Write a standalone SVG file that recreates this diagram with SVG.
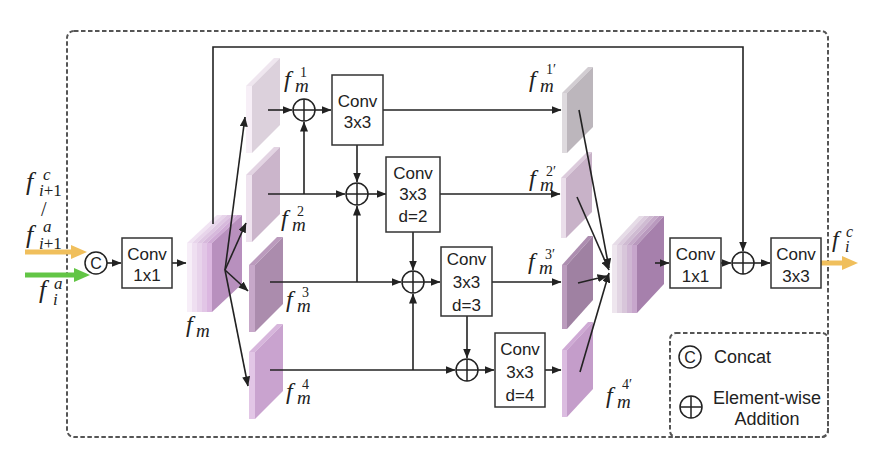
<svg xmlns="http://www.w3.org/2000/svg" width="871" height="458" viewBox="0 0 871 458">
<style>
.frame{fill:none;stroke:#555;stroke-width:2;stroke-dasharray:4.5 2.5}
.box{fill:#fff;stroke:#333;stroke-width:1.5}
.lbl{font-family:"Liberation Sans",Arial,sans-serif;font-size:17px;fill:#222;text-anchor:middle}
.leg{font-family:"Liberation Sans",Arial,sans-serif;font-size:18px;fill:#222}
.mi{font-family:"Liberation Serif","Times New Roman",serif;font-style:italic;fill:#222}
.mr{font-family:"Liberation Serif","Times New Roman",serif;font-style:normal;fill:#222}
.ln{fill:none;stroke:#222;stroke-width:1.6}
</style>
<defs>
<marker id="ah" markerUnits="userSpaceOnUse" markerWidth="10" markerHeight="8" refX="9.5" refY="4" orient="auto"><path d="M0,0 L10,4 L0,8 z" fill="#222"/></marker>
<marker id="ahOr" markerUnits="userSpaceOnUse" markerWidth="17" markerHeight="14" refX="4" refY="7" orient="auto"><path d="M0,0 L16,7 L0,14 z" fill="#f0bf5c"/></marker>
<marker id="ahGr" markerUnits="userSpaceOnUse" markerWidth="17" markerHeight="14" refX="4" refY="7" orient="auto"><path d="M0,0 L16,7 L0,14 z" fill="#62c545"/></marker>
<g id="plus"><circle cx="0" cy="0" r="11" fill="#fff" stroke="#222" stroke-width="1.5"/><path d="M-11,0H11M0,-11V11" fill="none" stroke="#222" stroke-width="1.5"/></g>
<g id="concat"><circle cx="0" cy="0" r="11" fill="#fff" stroke="#222" stroke-width="1.5"/><text x="0" y="6" font-family="Liberation Sans, Arial, sans-serif" font-size="16" fill="#222" text-anchor="middle">C</text></g>
</defs>

<rect class="frame" x="67" y="31" width="761" height="406" rx="7"/>

<!-- input labels -->
<g id="inputs">
<text class="mi" font-size="26"><tspan x="26" y="190">f</tspan><tspan x="43" y="180" font-size="17">c</tspan><tspan x="39" y="196" font-size="17">i</tspan><tspan class="mr" font-size="17">+1</tspan></text>
<text class="mr" x="41" y="216" font-size="20">/</text>
<text class="mi" font-size="26"><tspan x="26" y="243">f</tspan><tspan x="43" y="232" font-size="17">a</tspan><tspan x="39" y="249" font-size="17">i</tspan><tspan class="mr" font-size="17">+1</tspan></text>
<text class="mi" font-size="26"><tspan x="39" y="298">f</tspan><tspan x="54" y="289" font-size="17">a</tspan><tspan x="53" y="305" font-size="17">i</tspan></text>
</g>

<!-- fm block -->
<g id="fm">
<rect x="187" y="243" width="5" height="69" fill="#f7eef8"/><polygon points="187,243 192,243 222,215 217,215" fill="#f1e4f3"/>
<rect x="192" y="243" width="5" height="69" fill="#efdff1"/><polygon points="192,243 197,243 227,215 222,215" fill="#e8d5eb"/>
<rect x="197" y="243" width="5" height="69" fill="#e8d3eb"/><polygon points="197,243 202,243 232,215 227,215" fill="#dfc7e3"/>
<rect x="202" y="243" width="5" height="69" fill="#e2c6e6"/><polygon points="202,243 207,243 237,215 232,215" fill="#d7b9dc"/>
<rect x="207" y="243" width="5" height="69" fill="#dbb7e0"/><polygon points="207,243 212,243 242,215 237,215" fill="#cfaad5"/>
<polygon points="212,243 242,215 242,284 212,312" fill="#b890be"/>
<text class="mi" font-size="24"><tspan x="186" y="332">f</tspan><tspan x="196" y="337" font-size="19">m</tspan></text>
</g>

<!-- left plates -->
<g id="fm1">
<rect x="246" y="86" width="6" height="67" fill="#f7eff7"/><polygon points="246,86 252,86 280,58 274,58" fill="#efe6ef"/><polygon points="252,86 280,58 280,125 252,153" fill="#dcd1dc"/>
<text class="mi" font-size="24"><tspan x="284" y="87">f</tspan><tspan class="mr" x="300" y="77" font-size="14">1</tspan><tspan x="295" y="92" font-size="19">m</tspan></text>
</g>
<g id="fm2">
<rect x="246" y="175" width="6" height="67" fill="#efe3ef"/><polygon points="246,175 252,175 280,147 274,147" fill="#e3d4e3"/><polygon points="252,175 280,147 280,214 252,242" fill="#cbb5cb"/>
<text class="mi" font-size="24"><tspan x="281" y="226">f</tspan><tspan class="mr" x="297" y="216" font-size="14">2</tspan><tspan x="292" y="231" font-size="19">m</tspan></text>
</g>
<g id="fm3">
<rect x="249" y="265" width="6" height="67" fill="#c7a8c9"/><polygon points="249,265 255,265 283,237 277,237" fill="#bb9bbd"/><polygon points="255,265 283,237 283,304 255,332" fill="#ab8cad"/>
<text class="mi" font-size="24"><tspan x="286" y="307">f</tspan><tspan class="mr" x="302" y="297" font-size="14">3</tspan><tspan x="297" y="312" font-size="19">m</tspan></text>
</g>
<g id="fm4">
<rect x="249" y="352" width="6" height="67" fill="#e2c6e6"/><polygon points="249,352 255,352 283,324 277,324" fill="#d7b6dc"/><polygon points="255,352 283,324 283,391 255,419" fill="#c9a3cf"/>
<text class="mi" font-size="24"><tspan x="286" y="399">f</tspan><tspan class="mr" x="302" y="389" font-size="14">4</tspan><tspan x="297" y="404" font-size="19">m</tspan></text>
</g>

<!-- right plates -->
<g id="fm1p">
<rect x="562" y="93" width="5" height="60" fill="#dedade"/><polygon points="562,93 567,93 593,67 588,67" fill="#d2cdd2"/><polygon points="567,93 593,67 593,127 567,153" fill="#bcb6bc"/>
<text class="mi" font-size="24"><tspan x="529" y="87">f</tspan><tspan class="mr" x="546" y="74" font-size="14">1′</tspan><tspan x="540" y="92" font-size="19">m</tspan></text>
</g>
<g id="fm2p">
<rect x="561" y="178" width="5" height="60" fill="#eadeea"/><polygon points="561,178 566,178 592,152 587,152" fill="#dccbdc"/><polygon points="566,178 592,152 592,212 566,238" fill="#c8b2c8"/>
<text class="mi" font-size="24"><tspan x="529" y="186">f</tspan><tspan class="mr" x="546" y="176" font-size="14">2′</tspan><tspan x="540" y="191" font-size="19">m</tspan></text>
</g>
<g id="fm3p">
<rect x="562" y="265" width="5" height="64" fill="#bb9cbd"/><polygon points="562,265 567,265 593,236 588,236" fill="#ad8eb0"/><polygon points="567,265 593,236 593,300 567,329" fill="#9f81a2"/>
<text class="mi" font-size="24"><tspan x="528" y="269">f</tspan><tspan class="mr" x="545" y="259" font-size="14">3′</tspan><tspan x="539" y="274" font-size="19">m</tspan></text>
</g>
<g id="fm4p">
<rect x="562" y="350" width="5" height="67" fill="#dbbce0"/><polygon points="562,350 567,350 593,322 588,322" fill="#cfaad5"/><polygon points="567,350 593,322 593,389 567,417" fill="#c49dca"/>
<text class="mi" font-size="24"><tspan x="606" y="403">f</tspan><tspan class="mr" x="622" y="389" font-size="14">4′</tspan><tspan x="617" y="408" font-size="19">m</tspan></text>
</g>

<!-- right concat block -->
<g id="cat">
<rect x="612" y="245" width="5" height="68" fill="#eee6ee"/><polygon points="612,245 617,245 644,216 639,216" fill="#e6dce7"/>
<rect x="617" y="245" width="5" height="68" fill="#e2d5e3"/><polygon points="617,245 622,245 649,216 644,216" fill="#dbcbdd"/>
<rect x="622" y="245" width="5" height="68" fill="#d8c6da"/><polygon points="622,245 627,245 654,216 649,216" fill="#cfbbd2"/>
<rect x="627" y="245" width="5" height="68" fill="#cfb6d3"/><polygon points="627,245 632,245 659,216 654,216" fill="#c5aac9"/>
<rect x="632" y="245" width="5" height="68" fill="#c7a6cc"/><polygon points="632,245 637,245 664,216 659,216" fill="#b999be"/>
<polygon points="637,245 664,216 664,284 637,313" fill="#a680ac"/>
</g>

<!-- connectors -->
<g id="connectors">
<line x1="25" y1="252" x2="75" y2="252" stroke="#f0bf5c" stroke-width="5" marker-end="url(#ahOr)"/>
<line x1="25" y1="275" x2="78" y2="275" stroke="#62c545" stroke-width="5" marker-end="url(#ahGr)"/>
<line x1="821" y1="263" x2="846" y2="263" stroke="#f0bf5c" stroke-width="5" marker-end="url(#ahOr)"/>
<path class="ln" d="M107,263H121" marker-end="url(#ah)"/>
<path class="ln" d="M172,263H186" marker-end="url(#ah)"/>
<path class="ln" d="M213,224V47H743V251" marker-end="url(#ah)"/>
<path class="ln" d="M225,270L245,117" marker-end="url(#ah)"/>
<path class="ln" d="M225,270L246,223" marker-end="url(#ah)"/>
<path class="ln" d="M225,270L248,291" marker-end="url(#ah)"/>
<path class="ln" d="M225,270L248,386" marker-end="url(#ah)"/>
<path class="ln" d="M268,110H292" marker-end="url(#ah)"/>
<path class="ln" d="M315,110H331" marker-end="url(#ah)"/>
<path class="ln" d="M383,110H561" marker-end="url(#ah)"/>
<path class="ln" d="M268,194H345" marker-end="url(#ah)"/>
<path class="ln" d="M304,194V122" marker-end="url(#ah)"/>
<path class="ln" d="M357,145V182" marker-end="url(#ah)"/>
<path class="ln" d="M368,194H386" marker-end="url(#ah)"/>
<path class="ln" d="M440,194H560" marker-end="url(#ah)"/>
<path class="ln" d="M270,282H401" marker-end="url(#ah)"/>
<path class="ln" d="M357,282V206" marker-end="url(#ah)"/>
<path class="ln" d="M413,232V270" marker-end="url(#ah)"/>
<path class="ln" d="M424,282H440" marker-end="url(#ah)"/>
<path class="ln" d="M492,282H561" marker-end="url(#ah)"/>
<path class="ln" d="M270,370H455" marker-end="url(#ah)"/>
<path class="ln" d="M413,370V294" marker-end="url(#ah)"/>
<path class="ln" d="M467,316V358" marker-end="url(#ah)"/>
<path class="ln" d="M478,370H494" marker-end="url(#ah)"/>
<path class="ln" d="M545,370H561" marker-end="url(#ah)"/>
<path class="ln" d="M579,110L609,268" marker-end="url(#ah)"/>
<path class="ln" d="M577,197L609,270" marker-end="url(#ah)"/>
<path class="ln" d="M578,283L607,276" marker-end="url(#ah)"/>
<path class="ln" d="M580,372L609,273" marker-end="url(#ah)"/>
<path class="ln" d="M655,263H669" marker-end="url(#ah)"/>
<path class="ln" d="M721,263H731" marker-end="url(#ah)"/>
<path class="ln" d="M754,263H770" marker-end="url(#ah)"/>
</g>

<!-- operators -->
<g id="catIn"><use href="#concat" x="96" y="263"/></g>
<g id="add1"><use href="#plus" x="304" y="110"/></g>
<g id="add2"><use href="#plus" x="357" y="194"/></g>
<g id="add3"><use href="#plus" x="413" y="282"/></g>
<g id="add4"><use href="#plus" x="467" y="370"/></g>
<g id="addOut"><use href="#plus" x="743" y="263"/></g>

<!-- conv boxes -->
<g id="conv1x1a"><rect class="box" x="122" y="238" width="50" height="50"/><text class="lbl" x="147" y="260">Conv</text><text class="lbl" x="147" y="281">1x1</text></g>
<g id="conv1"><rect class="box" x="332" y="75" width="51" height="70"/><text class="lbl" x="357.5" y="107">Conv</text><text class="lbl" x="357.5" y="128">3x3</text></g>
<g id="conv2"><rect class="box" x="386" y="157" width="54" height="75"/><text class="lbl" x="413" y="179">Conv</text><text class="lbl" x="413" y="200">3x3</text><text class="lbl" x="413" y="222">d=2</text></g>
<g id="conv3"><rect class="box" x="441" y="247" width="51" height="69"/><text class="lbl" x="466.5" y="265">Conv</text><text class="lbl" x="466.5" y="288">3x3</text><text class="lbl" x="466.5" y="311">d=3</text></g>
<g id="conv4"><rect class="box" x="495" y="333" width="50" height="74"/><text class="lbl" x="520" y="355">Conv</text><text class="lbl" x="520" y="378">3x3</text><text class="lbl" x="520" y="401">d=4</text></g>
<g id="conv1x1b"><rect class="box" x="670" y="238" width="51" height="50"/><text class="lbl" x="695.5" y="260">Conv</text><text class="lbl" x="695.5" y="282">1x1</text></g>
<g id="conv3x3out"><rect class="box" x="771" y="238" width="50" height="50"/><text class="lbl" x="796" y="260">Conv</text><text class="lbl" x="796" y="282">3x3</text></g>

<!-- output label -->
<g id="output">
<text class="mi" font-size="24"><tspan x="832" y="247">f</tspan><tspan x="846" y="237" font-size="16">c</tspan><tspan x="845" y="252" font-size="16">i</tspan></text>
</g>

<!-- legend -->
<g id="legend">
<rect class="frame" x="670" y="333" width="158" height="104" rx="6"/>
<use href="#concat" x="690" y="357"/>
<text class="leg" x="714" y="363">Concat</text>
<use href="#plus" x="691" y="407"/>
<text class="leg" x="767" y="404" text-anchor="middle">Element-wise</text>
<text class="leg" x="767" y="425" text-anchor="middle">Addition</text>
</g>
</svg>
